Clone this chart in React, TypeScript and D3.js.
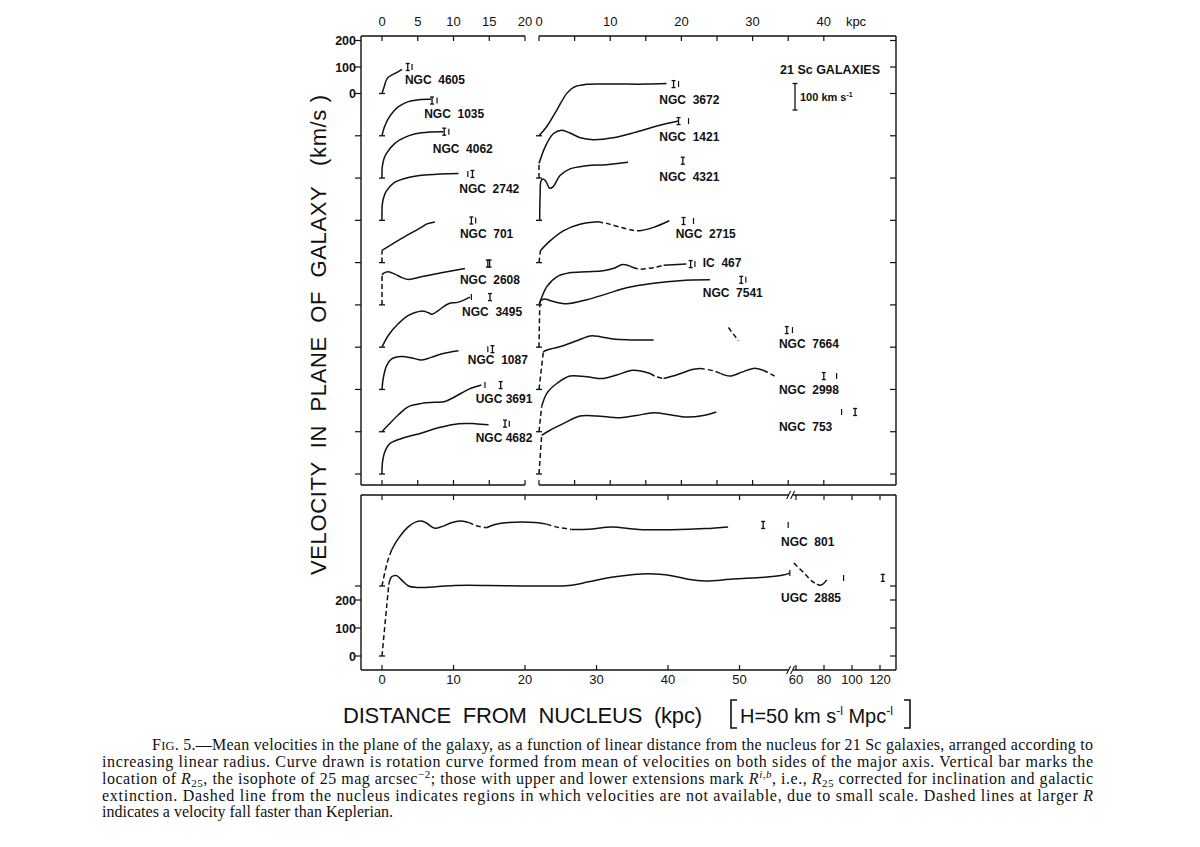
import React from 'react';
import * as d3 from 'd3';

// ---------- axis ticks ----------
const topTicksLeft = [0, 5, 10, 15, 20];
const topTicksRight = [0, 5, 10, 15, 20, 25, 30, 35, 40];
const topLabelsRight = [0, 10, 20, 30, 40];
const bottomTicksNear = [0, 10, 20, 30, 40, 50];
const bottomTicksFar = [60, 80, 100, 120];
const velTicks = [0, 100, 200];

// ---------- rotation curves: [R kpc, V km/s] ----------
// left column
const ngc4605 = [[0, 0], [0.3, 25], [0.6, 50], [0.9, 62], [1.4, 70], [2.1, 80], [2.8, 91]];
const ngc1035 = [[0, 0], [0.3, 30], [0.9, 66], [1.6, 92], [2.3, 110], [3.7, 129], [5.5, 137], [6.9, 138]];
const ngc4062 = [[0, 0], [0.05, 44], [0.3, 75], [0.65, 94], [1.8, 131], [3.7, 159], [5.5, 171], [8.6, 175]];
const ngc2742 = [[0, 0], [0.05, 62], [0.3, 92], [0.65, 112], [1.8, 144], [3.7, 162], [6.5, 172], [10.7, 177]];
const ngc701Dash = [[0, 0], [0, 46]];
const ngc701 = [[0, 46], [2.3, 84], [4.5, 118], [5.55, 134], [6.3, 146], [7.4, 153]];
const ngc2608Dash = [[0, 0], [0, 112]];
const ngc2608 = [[0, 112], [0.2, 119], [0.9, 125], [1.8, 116], [2.8, 103], [3.7, 96], [5.5, 106], [8.3, 121], [11.6, 137]];
const ngc3495 = [[0, 0], [0.9, 45], [2.3, 89], [3.7, 120], [5.5, 136], [6.5, 130], [7.0, 124], [7.9, 139], [9.3, 164], [10.7, 170], [12.3, 189]];
const ngc1087 = [[0, 0], [0.2, 46], [0.65, 90], [1.35, 115], [2.75, 124], [4.15, 119], [5.55, 111], [6.9, 121], [8.3, 134], [10.7, 146]];
const ugc3691 = [[0, 0], [0.9, 26], [2.3, 64], [3.7, 95], [5.55, 107], [7.4, 111], [8.8, 114], [10.2, 132], [12.1, 160], [13.9, 176]];
const ngc4682 = [[0, 0], [0.05, 40], [0.4, 84], [1.1, 115], [2.75, 134], [5.55, 155], [8.3, 177], [10.7, 190], [13.0, 190], [14.9, 186]];
// right column
const ngc3672 = [[0, 0], [1.1, 35], [2.5, 97], [3.9, 160], [4.8, 182], [6.7, 194], [10.4, 195], [15.1, 195], [17.9, 197]];
const ngc1421Dash = [[0, 0], [0, 55]];
const ngc1421 = [[0, 55], [0.85, 117], [2.0, 167], [3.2, 180], [4.35, 170], [5.8, 152], [7.6, 145], [10.4, 152], [13.7, 174], [17, 199], [19.6, 215]];
const ngc4321 = [[0.1, 0], [0.15, 90], [0.3, 150], [0.6, 156], [1.0, 146], [1.5, 121], [2.0, 127], [2.95, 169], [4.35, 194], [6.7, 206], [9.5, 210], [12.5, 219]];
const ngc2715Dash = [[0, 0], [0.2, 45]];
const ngc2715A = [[0.2, 45], [1.55, 82], [3.4, 120], [5.75, 145], [8.3, 154]];
const ngc2715Gap = [[8.3, 154], [9.5, 148], [11.4, 134], [13.2, 122], [14.2, 120]];
const ngc2715B = [[14.2, 120], [16.1, 133], [18.3, 158]];
const ic467A = [[0, 0], [0.1, 8], [1.1, 69], [2.5, 106], [4.3, 121], [6.7, 125], [9.0, 129], [10.4, 137], [11.8, 152], [13.2, 141]];
const ic467Gap = [[13.2, 141], [14.2, 135], [16.1, 141], [17.5, 150]];
const ic467B = [[17.5, 150], [20.7, 154]];
const ngc7541Dash = [[0, 0], [0.1, 157]];
const ngc7541 = [[0.1, 157], [0.25, 176], [0.8, 182], [1.8, 174], [3.9, 164], [6.7, 179], [9.5, 201], [12.3, 224], [16.1, 241], [19.8, 251], [24, 254]];
const ngc7664Dash = [[0, 0], [0.6, 140]];
const ngc7664 = [[0.6, 140], [0.85, 146], [2.0, 155], [3.4, 165], [5.3, 184], [7.2, 202], [8.6, 199], [10.4, 190], [12.8, 187], [16.1, 187]];
const ngc7664Outer = [[26.6, 234], [28.0, 184]];
const ngc2998Dash = [[0, 0], [0.37, 95]];
const ngc2998A = [[0.37, 95], [1.1, 145], [2.5, 182], [4.35, 210], [6.7, 207], [9.0, 201], [10.9, 214], [13.2, 232], [15.6, 220]];
const ngc2998B = [[15.6, 220], [16.5, 207], [17.5, 201]];
const ngc2998C = [[17.5, 201], [19.3, 214], [21.5, 235], [22.6, 239]];
const ngc2998D = [[22.6, 239], [24.5, 230], [25.5, 220]];
const ngc2998E = [[25.5, 220], [26.8, 210], [28.5, 225], [30.1, 239], [31.5, 232]];
const ngc2998F = [[31.5, 232], [33.1, 210]];
const ngc753Dash = [[0, 0], [0.37, 146]];
const ngc753 = [[0.37, 146], [1.55, 165], [3.4, 190], [5.75, 219], [8.1, 219], [11.4, 212], [13.7, 221], [16.1, 231], [18.4, 224], [20.7, 215], [23.1, 221], [24.9, 234]];
// bottom panel
const ngc801Dash = [[0, 0], [0.7, 81], [1.35, 129]];
const ngc801A = [[1.35, 129], [2.3, 170], [3.7, 212], [4.85, 230], [5.55, 232], [6.25, 224], [7.4, 206], [8.35, 212], [9.7, 226], [10.9, 232], [12.1, 227]];
const ngc801B = [[12.1, 227], [13.2, 215], [14.6, 208]];
const ngc801C = [[14.6, 208], [15.8, 220], [17.7, 227], [21.4, 227], [23.0, 221]];
const ngc801D = [[23.0, 221], [24.7, 209], [26.5, 202]];
const ngc801E = [[26.5, 202], [28.9, 203], [32.1, 211], [35.9, 202], [40.5, 201], [45.2, 205], [48.4, 211]];
const ugc2885Dash = [[0, 0], [0.65, 176], [0.95, 255]];
const ugc2885 = [[0.95, 255], [1.35, 283], [2.05, 287], [2.75, 271], [3.7, 250], [4.85, 245], [7.9, 248], [10.2, 252], [14.9, 252], [19.5, 250], [24.2, 250], [26.5, 253], [28.9, 265], [32.6, 283], [37.2, 294], [40.5, 287], [42.8, 274], [45.2, 268], [49.1, 275], [53.8, 282], [56.1, 289], [57, 296]];
const ugc2885OuterDash = [[59, 332], [66, 295], [72, 265], [75, 257]];
const ugc2885Outer = [[75, 257], [77, 253], [79, 256], [82, 272]];

// ---------- radius markers: [kind, R, V] ('I' = R^{i,b}, '|' = R25) ----------
const mk4605 = [['I', 3.6, 100], ['|', 4.2, 100]];
const mk1035 = [['I', 7.0, 133], ['|', 7.7, 133]];
const mk4062 = [['I', 8.7, 175], ['|', 9.35, 175]];
const mk2742 = [['|', 12.0, 175], ['I', 12.65, 175]];
const mk701 = [['I', 12.5, 159], ['|', 13.1, 159]];
const mk2608 = [['I', 14.8, 156], ['I', 15.05, 156]];
const mk3495 = [['|', 12.5, 189], ['I', 15.1, 189]];
const mk1087 = [['|', 14.8, 152], ['I', 15.45, 152]];
const mk3691 = [['|', 14.4, 176], ['I', 16.6, 176]];
const mk4682 = [['I', 17.2, 190], ['|', 17.8, 190]];
const mk3672 = [['I', 18.9, 195], ['|', 19.6, 195]];
const mk1421 = [['I', 19.6, 215], ['|', 21.0, 215]];
const mk4321 = [['I', 20.2, 225]];
const mk2715 = [['I', 20.3, 157], ['|', 21.7, 157]];
const mk467 = [['I', 21.3, 154], ['|', 21.9, 154]];
const mk7541 = [['I', 28.4, 254], ['|', 29.05, 254]];
const mk7664 = [['I', 34.8, 224], ['|', 35.6, 224]];
const mk2998 = [['I', 40.0, 210], ['|', 41.8, 210]];
const mk753 = [['|', 42.5, 234], ['I', 44.4, 234]];
const mk801 = [['I', 53.3, 218], ['|', 56.8, 218]];
const mk2885 = [['|', 57.1, 296], ['|', 94, 279], ['I', 122, 279]];

// ---------- table (panel, slot / base velocity, segments [points, dashed], label anchor in data units) ----------
const galaxies = [
  { name: 'NGC  4605', panel: 'L', slot: 0, segs: [[ngc4605, false]], marks: mk4605, label: [3.2, 36] },
  { name: 'NGC  1035', panel: 'L', slot: 1, segs: [[ngc1035, false]], marks: mk1035, label: [5.9, 67] },
  { name: 'NGC  4062', panel: 'L', slot: 2, segs: [[ngc4062, false]], marks: mk4062, label: [7.1, 94] },
  { name: 'NGC  2742', panel: 'L', slot: 3, segs: [[ngc2742, false]], marks: mk2742, label: [10.8, 103] },
  { name: 'NGC  701', panel: 'L', slot: 4, segs: [[ngc701Dash, true], [ngc701, false]], marks: mk701, label: [10.9, 93] },
  { name: 'NGC  2608', panel: 'L', slot: 5, segs: [[ngc2608Dash, true], [ngc2608, false]], marks: mk2608, label: [10.9, 79] },
  { name: 'NGC  3495', panel: 'L', slot: 6, segs: [[ngc3495, false]], marks: mk3495, label: [11.2, 117] },
  { name: 'NGC  1087', panel: 'L', slot: 7, segs: [[ngc1087, false]], marks: mk1087, label: [12.0, 96] },
  { name: 'UGC 3691', panel: 'L', slot: 8, segs: [[ugc3691, false]], marks: mk3691, label: [13.1, 108] },
  { name: 'NGC 4682', panel: 'L', slot: 9, segs: [[ngc4682, false]], marks: mk4682, label: [13.1, 121] },
  { name: 'NGC  3672', panel: 'R', slot: 1, segs: [[ngc3672, false]], marks: mk3672, label: [16.9, 120] },
  { name: 'NGC  1421', panel: 'R', slot: 2, segs: [[ngc1421Dash, true], [ngc1421, false]], marks: mk1421, label: [16.9, 140] },
  { name: 'NGC  4321', panel: 'R', slot: 3, segs: [[ngc4321, false]], marks: mk4321, label: [16.9, 149] },
  { name: 'NGC  2715', panel: 'R', slot: 4, segs: [[ngc2715Dash, true], [ngc2715A, false], [ngc2715Gap, true], [ngc2715B, false]], marks: mk2715, label: [19.2, 93] },
  { name: 'IC  467', panel: 'R', slot: 5, segs: [[ic467A, false], [ic467Gap, true], [ic467B, false]], marks: mk467, label: [23.0, 143] },
  { name: 'NGC  7541', panel: 'R', slot: 6, segs: [[ngc7541Dash, true], [ngc7541, false]], marks: mk7541, label: [23.0, 189] },
  { name: 'NGC  7664', panel: 'R', slot: 7, segs: [[ngc7664Dash, true], [ngc7664, false], [ngc7664Outer, true]], marks: mk7664, label: [33.7, 157] },
  { name: 'NGC  2998', panel: 'R', slot: 8, segs: [[ngc2998Dash, true], [ngc2998A, false], [ngc2998B, true], [ngc2998C, false], [ngc2998D, true], [ngc2998E, false], [ngc2998F, true]], marks: mk2998, label: [33.7, 142] },
  { name: 'NGC  753', panel: 'R', slot: 9, segs: [[ngc753Dash, true], [ngc753, false]], marks: mk753, label: [33.7, 162] },
  { name: 'NGC  801', panel: 'B', slot: 250, segs: [[ngc801Dash, true], [ngc801A, false], [ngc801B, true], [ngc801C, false], [ngc801D, true], [ngc801E, false]], marks: mk801, label: [55.8, 143] },
  { name: 'UGC  2885', panel: 'B', slot: 0, segs: [[ugc2885Dash, true], [ugc2885, false], [ugc2885OuterDash, true], [ugc2885Outer, false]], marks: mk2885, label: [55.8, 193] },
];

const captionLines = [
  'Mean velocities in the plane of the galaxy, as a function of linear distance from the nucleus for 21 Sc galaxies, arranged according to',
  'increasing linear radius. Curve drawn is rotation curve formed from mean of velocities on both sides of the major axis. Vertical bar marks the',
  'extinction. Dashed line from the nucleus indicates regions in which velocities are not available, due to small scale. Dashed lines at larger ',
  'indicates a velocity fall faster than Keplerian.',
];

export default function App() {
  const W = 1200;
  const H = 847;
  const F = { left: 361, right: 896, top: 36, midBottom: 485, botTop: 495, bottom: 670 };

  const xL = d3.scaleLinear().domain([0, 20]).range([382, 525]);
  const xR = d3.scaleLinear().domain([0, 45]).range([539, 539 + 45 * 7.12]);
  const xB = d3.scaleLinear().domain([0, 57, 60, 124]).range([382, 789.6, 796, 885.6]);
  const slotY = d3.scaleLinear().domain([0, 9]).range([93.5, 474]);
  const pxPer100Top = 26.5;
  const yBot = d3.scaleLinear().domain([0, 200]).range([656, 600]);

  const xOf = (p: string) => (p === 'L' ? xL : p === 'R' ? xR : xB);
  const yOf = (p: string, slot: number) =>
    p === 'B'
      ? (v: number) => yBot(v + slot)
      : d3.scaleLinear().domain([0, 100]).range([slotY(slot), slotY(slot) - pxPer100Top]);

  const stroke = '#111';
  const fontSans = 'Liberation Sans, Arial, Helvetica, sans-serif';
  const fontSerif = 'Liberation Serif, Times New Roman, serif';

  const elems: any[] = [];

  galaxies.forEach((g, gi) => {
    const xs = xOf(g.panel);
    const ys = yOf(g.panel, g.slot) as any;
    const line = d3
      .line<number[]>()
      .x((d) => xs(d[0]))
      .y((d) => ys(d[1]))
      .curve(d3.curveCatmullRom.alpha(0.5));
    g.segs.forEach((s: any, si: number) => {
      elems.push(
        <path
          key={`c${gi}-${si}`}
          d={line(s[0]) || ''}
          fill="none"
          stroke={stroke}
          strokeWidth={1.5}
          strokeDasharray={s[1] ? '5,3' : undefined}
        />
      );
    });
    // baseline foot
    const x0 = xs(0);
    const y0 = ys(0);
    elems.push(<line key={`f${gi}`} x1={x0 - 3} x2={x0 + 3} y1={y0} y2={y0} stroke={stroke} strokeWidth={1.3} />);
    // markers
    g.marks.forEach((m: any, mi: number) => {
      const mx = xs(m[1]);
      const my = ys(m[2]);
      if (m[0] === 'I') {
        elems.push(
          <g key={`m${gi}-${mi}`} stroke={stroke} strokeWidth={1.3}>
            <line x1={mx} x2={mx} y1={my - 3.5} y2={my + 3.5} />
            <line x1={mx - 2} x2={mx + 2} y1={my - 3.5} y2={my - 3.5} />
            <line x1={mx - 2} x2={mx + 2} y1={my + 3.5} y2={my + 3.5} />
          </g>
        );
      } else {
        elems.push(<line key={`m${gi}-${mi}`} x1={mx} x2={mx} y1={my - 3} y2={my + 3} stroke={stroke} strokeWidth={1.2} />);
      }
    });
    elems.push(
      <text
        key={`l${gi}`}
        x={xs(g.label[0])}
        y={ys(g.label[1])}
        fontFamily={fontSans}
        fontWeight={700}
        fontSize={12}
        style={{ whiteSpace: 'pre' }}
        fill={stroke}
      >
        {g.name}
      </text>
    );
  });

  // ---- frames ----
  const frame: any[] = [];
  const sw = 1.4;
  // top panel
  frame.push(<line key="tl" x1={F.left} x2={F.left} y1={F.top} y2={F.midBottom} stroke={stroke} strokeWidth={sw} />);
  frame.push(<line key="tr" x1={F.right} x2={F.right} y1={F.top} y2={F.midBottom} stroke={stroke} strokeWidth={sw} />);
  [F.top, F.midBottom].forEach((yy, k) => {
    frame.push(<line key={`th${k}a`} x1={F.left} x2={xL(20)} y1={yy} y2={yy} stroke={stroke} strokeWidth={sw} />);
    frame.push(<line key={`th${k}b`} x1={xR(0)} x2={F.right} y1={yy} y2={yy} stroke={stroke} strokeWidth={sw} />);
    const dir = k === 0 ? 1 : -1;
    topTicksLeft.forEach((t) =>
      frame.push(<line key={`ttl${k}-${t}`} x1={xL(t)} x2={xL(t)} y1={yy} y2={yy + dir * 5} stroke={stroke} strokeWidth={1.2} />)
    );
    topTicksRight.forEach((t) =>
      frame.push(<line key={`ttr${k}-${t}`} x1={xR(t)} x2={xR(t)} y1={yy} y2={yy + dir * 5} stroke={stroke} strokeWidth={1.2} />)
    );
  });
  // top panel side ticks
  const topSideY = [...velTicks.map((v) => slotY(0) - (v / 100) * pxPer100Top), ...d3.range(1, 10).map((s) => slotY(s))];
  topSideY.forEach((yy, i) => {
    frame.push(<line key={`tsl${i}`} x1={F.left - 6} x2={F.left} y1={yy} y2={yy} stroke={stroke} strokeWidth={1.2} />);
    frame.push(<line key={`tsr${i}`} x1={F.right - 6} x2={F.right} y1={yy} y2={yy} stroke={stroke} strokeWidth={1.2} />);
  });
  // bottom panel
  const brk = xB(57) + 1.5;
  frame.push(<line key="bl" x1={F.left} x2={F.left} y1={F.botTop} y2={F.bottom} stroke={stroke} strokeWidth={sw} />);
  frame.push(<line key="br" x1={F.right} x2={F.right} y1={F.botTop} y2={F.bottom} stroke={stroke} strokeWidth={sw} />);
  [F.botTop, F.bottom].forEach((yy, k) => {
    frame.push(<line key={`bh${k}a`} x1={F.left} x2={brk - 2} y1={yy} y2={yy} stroke={stroke} strokeWidth={sw} />);
    frame.push(<line key={`bh${k}b`} x1={brk + 2} x2={F.right} y1={yy} y2={yy} stroke={stroke} strokeWidth={sw} />);
    frame.push(<line key={`bk${k}a`} x1={brk - 4.5} x2={brk - 0.5} y1={yy + 4} y2={yy - 4} stroke={stroke} strokeWidth={1.1} />);
    frame.push(<line key={`bk${k}b`} x1={brk - 0.5} x2={brk + 3.5} y1={yy + 4} y2={yy - 4} stroke={stroke} strokeWidth={1.1} />);
    const dir = k === 0 ? 1 : -1;
    [...bottomTicksNear, ...bottomTicksFar].forEach((t) =>
      frame.push(<line key={`bt${k}-${t}`} x1={xB(t)} x2={xB(t)} y1={yy} y2={yy + dir * 5} stroke={stroke} strokeWidth={1.2} />)
    );
  });
  const botSideY = [...velTicks.map((v) => yBot(v)), yBot(250)];
  botSideY.forEach((yy, i) => {
    frame.push(<line key={`bsl${i}`} x1={F.left - 6} x2={F.left} y1={yy} y2={yy} stroke={stroke} strokeWidth={1.2} />);
    frame.push(<line key={`bsr${i}`} x1={F.right - 6} x2={F.right} y1={yy} y2={yy} stroke={stroke} strokeWidth={1.2} />);
  });

  // ---- tick labels ----
  const labels: any[] = [];
  const tickFont = { fontFamily: fontSans, fontSize: 13, fill: stroke } as any;
  topTicksLeft.forEach((t) =>
    labels.push(<text key={`ltl${t}`} x={xL(t)} y={26} textAnchor="middle" {...tickFont}>{t}</text>)
  );
  topLabelsRight.forEach((t) =>
    labels.push(<text key={`ltr${t}`} x={xR(t)} y={26} textAnchor="middle" {...tickFont}>{t}</text>)
  );
  labels.push(<text key="kpc" x={856} y={26} textAnchor="middle" {...tickFont}>kpc</text>);
  [...bottomTicksNear, ...bottomTicksFar].forEach((t) =>
    labels.push(<text key={`lb${t}`} x={xB(t)} y={684} textAnchor="middle" {...tickFont}>{t}</text>)
  );
  velTicks.forEach((v) => {
    labels.push(
      <text key={`vt${v}`} x={356} y={slotY(0) - (v / 100) * pxPer100Top + 4.5} textAnchor="end" fontFamily={fontSans} fontWeight={700} fontSize={12.5} fill={stroke}>{v}</text>
    );
    labels.push(
      <text key={`vb${v}`} x={356} y={yBot(v) + 4.5} textAnchor="end" fontFamily={fontSans} fontWeight={700} fontSize={12.5} fill={stroke}>{v}</text>
    );
  });

  // legend
  const legX = 795;
  const legY0 = 110;
  const legend = (
    <g>
      <text x={780} y={74} fontFamily={fontSans} fontWeight={700} fontSize={12.5} fill={stroke}>21 Sc GALAXIES</text>
      <line x1={legX} x2={legX} y1={legY0} y2={legY0 - pxPer100Top} stroke={stroke} strokeWidth={1.3} />
      <line x1={legX - 2.5} x2={legX + 2.5} y1={legY0} y2={legY0} stroke={stroke} strokeWidth={1.3} />
      <line x1={legX - 2.5} x2={legX + 2.5} y1={legY0 - pxPer100Top} y2={legY0 - pxPer100Top} stroke={stroke} strokeWidth={1.3} />
      <text x={800} y={101} fontFamily={fontSans} fontWeight={700} fontSize={11} fill={stroke}>
        100 km s<tspan dy={-4} fontSize={7}>-1</tspan>
      </text>
    </g>
  );

  // axis titles
  const titles = (
    <g fill={stroke} fontFamily={fontSans}>
      <text
        transform="translate(326,335) rotate(-90)"
        textAnchor="middle"
        fontSize={22}
        textLength={480}
        lengthAdjust="spacing"
        style={{ whiteSpace: 'pre' }}
      >
        VELOCITY  IN  PLANE  OF  GALAXY   (km/s )
      </text>
      <text x={343} y={723} fontSize={22} textLength={359} lengthAdjust="spacing" style={{ whiteSpace: 'pre' }}>
        DISTANCE  FROM  NUCLEUS  (kpc)
      </text>
      <path d="M737,700 L731,700 L731,728 L737,728" fill="none" stroke={stroke} strokeWidth={1.6} />
      <path d="M904,700 L910,700 L910,728 L904,728" fill="none" stroke={stroke} strokeWidth={1.6} />
      <text x={740} y={723} fontSize={20}>
        H=50 km s<tspan dy={-8} fontSize={12}>-l</tspan>
        <tspan dy={8} fontSize={20}> Mpc</tspan>
        <tspan dy={-8} fontSize={12}>-l</tspan>
      </text>
    </g>
  );

  // caption
  const capFs = 16;
  const caption = (
    <g fill={stroke} fontFamily={fontSerif} fontSize={capFs}>
      <text x={152} y={750} textLength={941} lengthAdjust="spacing">
        F<tspan fontSize={12.5}>IG</tspan>. 5.—{captionLines[0]}
      </text>
      <text x={102} y={767} textLength={991} lengthAdjust="spacing">{captionLines[1]}</text>
      <text x={102} y={784} textLength={991} lengthAdjust="spacing">
        location of <tspan fontStyle="italic">R</tspan>
        <tspan dy={3} fontSize={11}>25</tspan>
        <tspan dy={-3}>, the isophote of 25 mag arcsec</tspan>
        <tspan dy={-6} fontSize={11}>−2</tspan>
        <tspan dy={6}>; those with upper and lower extensions mark </tspan>
        <tspan fontStyle="italic">R</tspan>
        <tspan dy={-6} fontSize={11} fontStyle="italic">i,b</tspan>
        <tspan dy={6}>, i.e., </tspan>
        <tspan fontStyle="italic">R</tspan>
        <tspan dy={3} fontSize={11}>25</tspan>
        <tspan dy={-3}> corrected for inclination and galactic</tspan>
      </text>
      <text x={102} y={801} textLength={991} lengthAdjust="spacing">
        {captionLines[2]}
        <tspan fontStyle="italic">R</tspan>
      </text>
      <text x={102} y={817}>{captionLines[3]}</text>
    </g>
  );

  return (
    <svg width={W} height={H} viewBox={`0 0 ${W} ${H}`} style={{ position: 'absolute', left: 0, top: 0, background: '#fff' }}>
      <rect x={0} y={0} width={W} height={H} fill="#fff" />
      {frame}
      {labels}
      {elems}
      {legend}
      {titles}
      {caption}
    </svg>
  );
}
